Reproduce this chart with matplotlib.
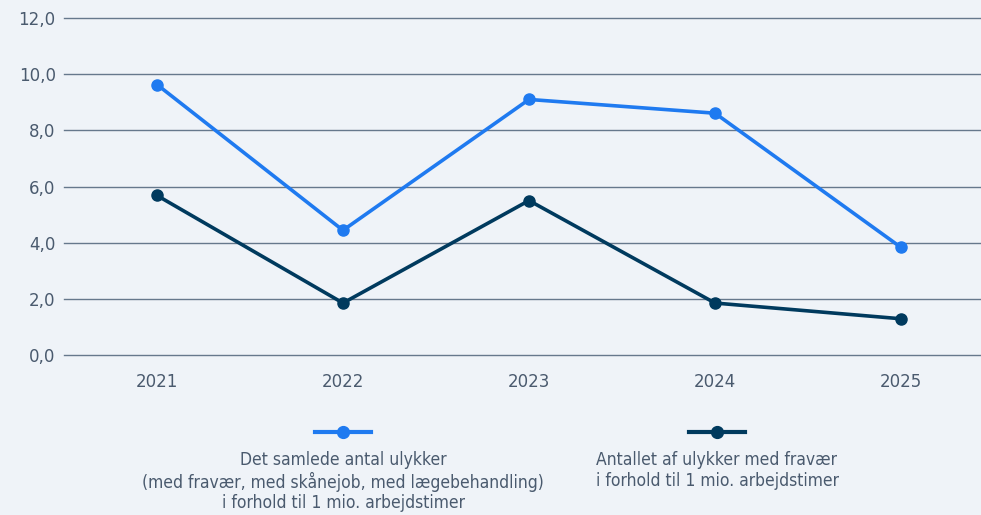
import matplotlib
matplotlib.use("Agg")
import matplotlib.pyplot as plt
from matplotlib.lines import Line2D

years = ["2021", "2022", "2023", "2024", "2025"]
total_rate = [9.63, 4.44, 9.10, 8.61, 3.83]
absence_rate = [5.68, 1.85, 5.50, 1.85, 1.29]
y_ticks = [0, 2, 4, 6, 8, 10, 12]
label_total = "Det samlede antal ulykker\n(med fravær, med skånejob, med lægebehandling)\ni forhold til 1 mio. arbejdstimer"
label_absence = "Antallet af ulykker med fravær\ni forhold til 1 mio. arbejdstimer"

BG = "#eff3f8"
BLUE = "#1f7af0"
DARK = "#003a5e"
GRID = "#66788c"
TXT = "#4a5a6e"

fig = plt.figure(figsize=(9.81, 5.15), dpi=100, facecolor=BG)
ax = fig.add_axes([64/981, 1-355/515, 1-64/981, (355-18)/515])
ax.set_facecolor(BG)

x = list(range(len(years)))
ax.plot(x, total_rate, color=BLUE, lw=2.6, marker="o", ms=8, zorder=3, clip_on=False)
ax.plot(x, absence_rate, color=DARK, lw=2.6, marker="o", ms=8, zorder=3, clip_on=False)

ax.set_ylim(0, 12)
ax.set_xlim(-0.5, 4.43)
ax.set_yticks(y_ticks)
ax.set_yticklabels([f"{v:.1f}".replace(".", ",") for v in y_ticks])
ax.set_xticks(x)
ax.set_xticklabels(years)
ax.yaxis.grid(True, color=GRID, lw=1.0)
for gl in ax.yaxis.get_gridlines():
    gl.set_clip_on(False)
ax.set_axisbelow(True)
for s in ax.spines.values():
    s.set_visible(False)
ax.tick_params(axis="both", length=0, colors=TXT, labelsize=12)
ax.tick_params(axis="y", pad=6)
ax.tick_params(axis="x", pad=13)

# legend
for cx, col, lab in [(343, BLUE, label_total), (717, DARK, label_absence)]:
    fx = cx / 981
    fy = 1 - 432 / 515
    fig.add_artist(Line2D([fx - 28/981, fx + 28/981], [fy, fy], color=col, lw=3,
                          transform=fig.transFigure))
    fig.add_artist(Line2D([fx], [fy], color=col, marker="o", ms=8.5,
                          transform=fig.transFigure))
    fig.text(fx, 1 - 451/515, lab, ha="center", va="top", color=TXT,
             fontsize=12.5, family="DejaVu Sans", fontstretch="condensed",
             linespacing=1.18)

fig.savefig("out.png", dpi=100, facecolor=BG)
